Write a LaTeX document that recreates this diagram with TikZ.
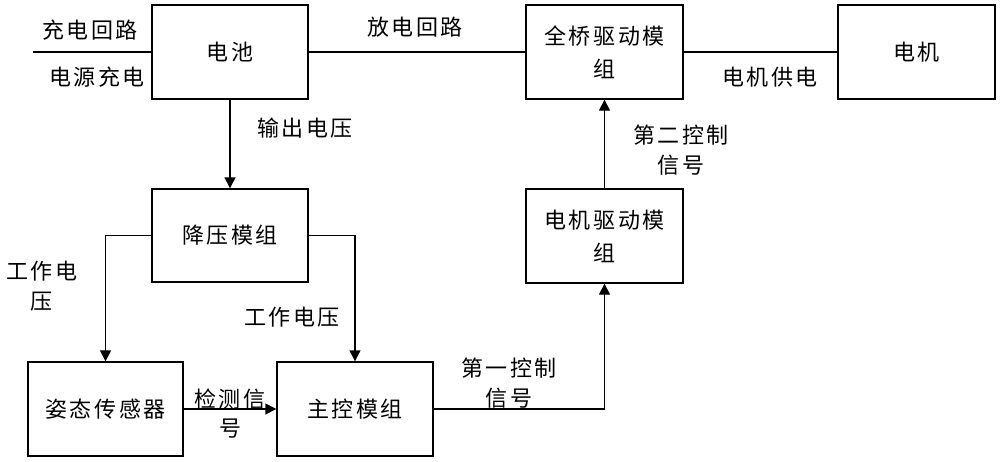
\documentclass[tikz,border=0pt]{standalone}
\usepackage{fontspec}
\newfontfamily\cjk[LetterSpace=12]{Noto Sans CJK SC}
\usetikzlibrary{arrows.meta}
\begin{document}
\begin{tikzpicture}[x=1pt,y=-1pt,
  every node/.style={font=\cjk\fontsize{22}{33}\selectfont, inner sep=0pt},
  blk/.style={draw, line width=1.4pt, align=center},
  lbl/.style={align=center, font=\cjk\fontsize{22}{30}\selectfont},
  con/.style={line width=1.4pt},
  arr/.style={con, -{Triangle[length=11pt,width=11pt]}}]
\useasboundingbox (0,0) rectangle (1000,461);
\node[blk, minimum width=156pt, minimum height=94pt] (bat) at (230,52) {电池};
\node[blk, minimum width=157pt, minimum height=94pt] (fb) at (604.5,52) {全桥驱动模\\组};
\node[blk, minimum width=157pt, minimum height=94pt] (motor) at (916.5,52) {电机};
\node[blk, minimum width=156pt, minimum height=93pt] (buck) at (230,235.5) {降压模组};
\node[blk, minimum width=157pt, minimum height=94pt] (md) at (604.5,236) {电机驱动模\\组};
\node[blk, minimum width=155pt, minimum height=94pt] (sensor) at (105.5,409) {姿态传感器};
\node[blk, minimum width=156pt, minimum height=94pt] (main) at (355,409) {主控模组};

\coordinate (chg) at (33,52);
\draw[con] (chg) -- (bat.west);
\draw[con] (bat.east) -- (fb.west);
\draw[con] (fb.east) -- (motor.west);
\draw[arr] (bat.south) -- (buck.north);
\draw[arr] (buck.west) -| (sensor.north);
\draw[arr] (buck.east) -| (main.north);
\draw[arr] (sensor.east) -- (main.west);
\draw[arr] (main.east) -| (md.south);
\draw[arr] (md.north) -- (fb.south);

\node[lbl] (l1) at (90,30) {充电回路};
\node[lbl] (l2) at (97,77) {电源充电};
\node[lbl] (l3) at (415,27) {放电回路};
\node[lbl] (l4) at (770,77) {电机供电};
\node[lbl] (l5) at (305,128) {输出电压};
\node[lbl] (l6) at (681,150) {第二控制\\信号};
\node[lbl] (l7) at (42,286) {工作电\\压};
\node[lbl] (l8) at (292,317) {工作电压};
\node[lbl, font=\cjk\fontsize{22}{29}\selectfont] (l9) at (230,414) {检测信\\号};
\node[lbl] (l10) at (509,383) {第一控制\\信号};
\end{tikzpicture}
\end{document}
